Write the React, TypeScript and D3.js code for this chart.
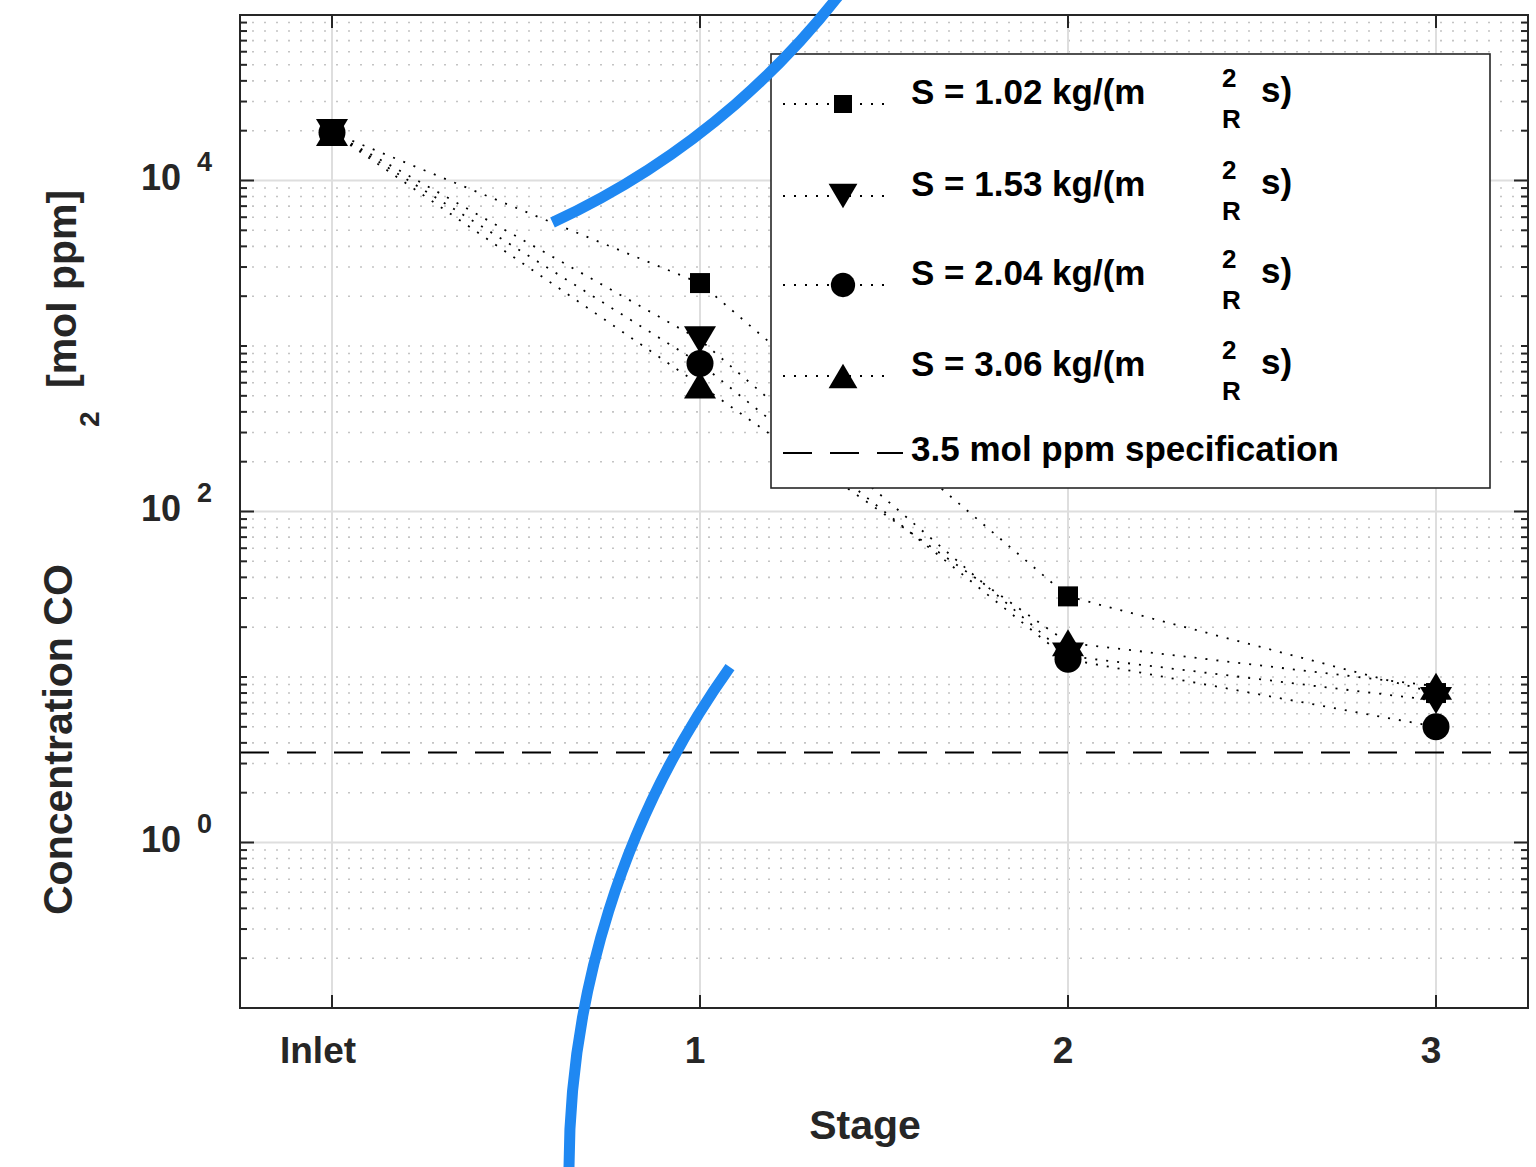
import * as d3 from "d3";

// stages on the x axis
const stageLabels = ["Inlet", "1", "2", "3"];
const stageIdx = [0, 1, 2, 3];

// CO2 concentration [mol ppm] per stage, one array per scrubbing rate
const s102 = [19500, 2400, 30.7, 8.0];
const s153 = [19500, 1090, 13.4, 7.2];
const s204 = [19500, 785, 12.8, 5.0];
const s306 = [19500, 581, 16.1, 8.8];
const seriesNames = ["S = 1.02 kg/(m", "S = 1.53 kg/(m", "S = 2.04 kg/(m", "S = 3.06 kg/(m"];
const seriesMarkers = ["square", "down", "circle", "up"];
const specValue = 3.5;
const specLabel = "3.5 mol ppm specification";

// y axis: labelled decades
const yMajor = [1, 100, 10000];
const yMajorExp = ["0", "2", "4"];

const W = 1536, H = 1167;
const margin = { left: 240, right: 8, top: 15, bottom: 159 };
const FONT = "'Liberation Sans', Arial, Helvetica, sans-serif";

const Marker = ({ kind, cx, cy, k = 1 }: any) => {
  if (kind === "square") {
    const s = 10 * k;
    return <rect x={cx - s} y={cy - s} width={2 * s} height={2 * s} fill="#000" />;
  }
  if (kind === "circle") return <circle cx={cx} cy={cy} r={13.5 * k} fill="#000" />;
  const w = 16 * k, h = 13.5 * k;
  const pts = kind === "down"
    ? [[cx - w, cy - h], [cx + w, cy - h], [cx, cy + h]]
    : [[cx - w, cy + h], [cx + w, cy + h], [cx, cy - h]];
  return <polygon points={pts.map((p) => p.join(",")).join(" ")} fill="#000" />;
};

const App = () => {
  const x0 = margin.left, x1 = W - margin.right, y0 = margin.top, y1 = H - margin.bottom;
  const x = d3.scaleLinear().domain([-0.25, 3.25]).range([x0, x1]);
  const y = d3.scaleLog().domain([0.1, 1e5]).range([y1, y0]);

  // minor ticks: every k*10^n that is not a labelled decade
  const minor: number[] = [];
  d3.range(-1, 5).forEach((e) => {
    d3.range(1, 10).forEach((m) => {
      const v = m * Math.pow(10, e);
      if (!yMajor.includes(v) && v > 0.1 && v < 1e5) minor.push(+v.toPrecision(3));
    });
  });

  const series = [s102, s153, s204, s306];
  const line = d3.line<number>().x((_, i) => x(stageIdx[i])).y((d) => y(d));
  const drawOrder = [0, 1, 3, 2];

  // blue annotation strokes drawn over the figure
  const arcA = d3.path();
  arcA.arc(227, -482, 776, (65.2 * Math.PI) / 180, (33 * Math.PI) / 180, true);
  const arcB = d3.path();
  arcB.arc(1435, 1170, 866, (179.3 * Math.PI) / 180, (215.5 * Math.PI) / 180, false);

  const legendRows = [104, 196, 285, 376];

  return (
    <svg width={W} height={H} style={{ position: "absolute", left: 0, top: 0, background: "#fff" }} fontFamily={FONT} fontWeight="bold">
      <rect width={W} height={H} fill="#fff" />
      {/* grid */}
      {minor.map((v) => (
        <line key={"mg" + v} x1={x0} x2={x1} y1={y(v)} y2={y(v)} stroke="#c4c4c4" strokeWidth={1.6} strokeDasharray="2 10" />
      ))}
      {yMajor.map((v) => (
        <line key={"Mg" + v} x1={x0} x2={x1} y1={y(v)} y2={y(v)} stroke="#dedede" strokeWidth={2} />
      ))}
      {stageIdx.map((s) => (
        <line key={"vg" + s} x1={x(s)} x2={x(s)} y1={y0} y2={y1} stroke="#dedede" strokeWidth={2} />
      ))}

      {/* specification */}
      <line x1={x0} x2={x1} y1={y(specValue)} y2={y(specValue)} stroke="#000" strokeWidth={2} strokeDasharray="29 18" />

      {/* series lines */}
      {series.map((s, i) => (
        <path key={"l" + i} d={line(s) || ""} fill="none" stroke="#000" strokeWidth={1.8} strokeDasharray="2 9" />
      ))}
      {drawOrder.map((i) =>
        series[i].map((v, j) => <Marker key={"m" + i + j} kind={seriesMarkers[i]} cx={x(stageIdx[j])} cy={y(v)} />)
      )}

      {/* axes box and ticks */}
      <rect x={x0} y={y0} width={x1 - x0} height={y1 - y0} fill="none" stroke="#262626" strokeWidth={2} />
      {minor.map((v) => (
        <g key={"mt" + v} stroke="#262626" strokeWidth={2}>
          <line x1={x0} x2={x0 + 7} y1={y(v)} y2={y(v)} />
          <line x1={x1} x2={x1 - 7} y1={y(v)} y2={y(v)} />
        </g>
      ))}
      {yMajor.map((v, i) => (
        <g key={"Mt" + v}>
          <line x1={x0} x2={x0 + 14} y1={y(v)} y2={y(v)} stroke="#262626" strokeWidth={2} />
          <line x1={x1} x2={x1 - 14} y1={y(v)} y2={y(v)} stroke="#262626" strokeWidth={2} />
          <text x={181} y={y(v) + 9} textAnchor="end" fontSize={36} fill="#262626">10</text>
          <text x={197} y={y(v) - 10} fontSize={27} fill="#262626">{yMajorExp[i]}</text>
        </g>
      ))}
      {stageIdx.map((s, i) => (
        <g key={"xt" + s}>
          <line x1={x(s)} x2={x(s)} y1={y1} y2={y1 - 13} stroke="#262626" strokeWidth={2} />
          <line x1={x(s)} x2={x(s)} y1={y0} y2={y0 + 13} stroke="#262626" strokeWidth={2} />
          <text x={x(s) - (i === 0 ? 14 : 5)} y={1063} textAnchor="middle" fontSize={37} fill="#262626">{stageLabels[i]}</text>
        </g>
      ))}

      {/* axis titles */}
      <text x={865} y={1139} textAnchor="middle" fontSize={41} fill="#262626">Stage</text>
      <text transform="translate(72,915) rotate(-90)" fontSize={41} fill="#262626">Concentration CO</text>
      <text transform="translate(99,427) rotate(-90)" fontSize={28} fill="#262626">2</text>
      <text transform="translate(76,388) rotate(-90)" fontSize={41} fill="#262626">[mol ppm]</text>

      {/* legend */}
      <rect x={771} y={54} width={719} height={434} fill="#fff" stroke="#262626" strokeWidth={1.6} />
      {seriesNames.map((n, i) => {
        const ry = legendRows[i];
        return (
          <g key={"lg" + i}>
            <line x1={783} x2={893} y1={ry} y2={ry} stroke="#000" strokeWidth={1.8} strokeDasharray="2 9" />
            <Marker kind={seriesMarkers[i]} cx={843} cy={ry} k={0.9} />
            <text x={911} y={ry} fontSize={35} fill="#000">{n}</text>
            <text x={1222} y={ry - 17} fontSize={26} fill="#000">2</text>
            <text x={1222} y={ry + 24} fontSize={26} fill="#000">R</text>
            <text x={1261} y={ry - 2} fontSize={35} fill="#000">s)</text>
          </g>
        );
      })}
      <line x1={783} x2={903} y1={453} y2={453} stroke="#000" strokeWidth={2} strokeDasharray="29 18" />
      <text x={911} y={461} fontSize={35} fill="#000">{specLabel}</text>

      {/* annotation strokes */}
      <path d={arcA.toString()} fill="none" stroke="#1f88f2" strokeWidth={11} />
      <path d={arcB.toString()} fill="none" stroke="#1f88f2" strokeWidth={11} />
    </svg>
  );
};

export default App;
